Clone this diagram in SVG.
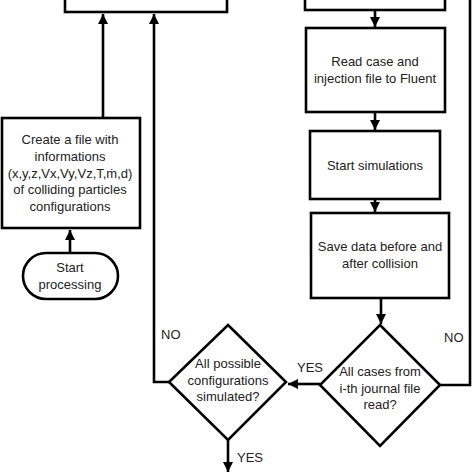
<svg xmlns="http://www.w3.org/2000/svg" width="474" height="474" viewBox="0 0 474 474">
<defs>
<marker id="ah" viewBox="0 0 10 10" refX="10" refY="5" markerWidth="10" markerHeight="10" markerUnits="userSpaceOnUse" orient="auto">
<path d="M0,0 L10,5 L0,10 z" fill="#000"/>
</marker>
</defs>
<style>
.box{fill:#fff;stroke:#000;stroke-width:2.6}
.ln{fill:none;stroke:#000;stroke-width:2.6}
.t{font-family:"Liberation Sans",Arial,sans-serif;font-size:13px;fill:#222;text-anchor:middle}
.lb{font-family:"Liberation Sans",Arial,sans-serif;font-size:13px;fill:#222}
</style>
<rect width="474" height="474" fill="#fff"/>
<g id="connectors">
<path class="ln" d="M103,118 V14" marker-end="url(#ah)"/>
<path class="ln" d="M169,382 H154 V14" marker-end="url(#ah)"/>
<path class="ln" d="M70,253 V230" marker-end="url(#ah)"/>
<path class="ln" d="M375,10 V27" marker-end="url(#ah)"/>
<path class="ln" d="M375,112 V130" marker-end="url(#ah)"/>
<path class="ln" d="M375,199 V212" marker-end="url(#ah)"/>
<path class="ln" d="M381,298 V324" marker-end="url(#ah)"/>
<path class="ln" d="M320,384 H288" marker-end="url(#ah)"/>
<path class="ln" d="M440,385 H470 V-5"/>
<path class="ln" d="M228,440 V472" marker-end="url(#ah)"/>
<text class="lb" x="161" y="339">NO</text>
<text class="lb" x="444" y="342">NO</text>
<text class="lb" x="297" y="372">YES</text>
<text class="lb" x="237" y="462">YES</text>
</g>
<g id="top-left-box"><rect class="box" x="65" y="-20" width="162" height="32"/></g>
<g id="top-right-box"><rect class="box" x="305" y="-20" width="140" height="30"/></g>
<g id="read-case">
<rect class="box" x="306" y="28" width="139" height="84"/>
<text class="t" x="375" y="66">Read case and</text>
<text class="t" x="375" y="83">injection file to Fluent</text>
</g>
<g id="start-simulations">
<rect class="box" x="310" y="131" width="130" height="68"/>
<text class="t" x="375" y="170">Start simulations</text>
</g>
<g id="save-data">
<rect class="box" x="311" y="213" width="138" height="85"/>
<text class="t" x="380" y="251">Save data before and</text>
<text class="t" x="380" y="268">after collision</text>
</g>
<g id="create-file">
<rect class="box" x="2" y="118" width="138" height="110"/>
<text class="t" x="70" y="144">Create a file with</text>
<text class="t" x="70" y="161">informations</text>
<text class="t" x="70" y="178">(x,y,z,Vx,Vy,Vz,T,ṁ,d)</text>
<text class="t" x="70" y="194">of colliding particles</text>
<text class="t" x="70" y="211">configurations</text>
</g>
<g id="start-processing">
<rect class="box" x="23" y="253" width="95" height="46" rx="23" ry="23"/>
<text class="t" x="70" y="272">Start</text>
<text class="t" x="70" y="289">processing</text>
</g>
<g id="all-configs">
<path class="box" d="M228,325 L286,382 L228,440 L169,382 Z"/>
<text class="t" x="228" y="368">All possible</text>
<text class="t" x="228" y="385">configurations</text>
<text class="t" x="228" y="401">simulated?</text>
</g>
<g id="all-cases">
<path class="box" d="M380,325 L440,385 L380,446 L320,385 Z"/>
<text class="t" x="380" y="376">All cases from</text>
<text class="t" x="380" y="393">i-th journal file</text>
<text class="t" x="380" y="409">read?</text>
</g>
</svg>
